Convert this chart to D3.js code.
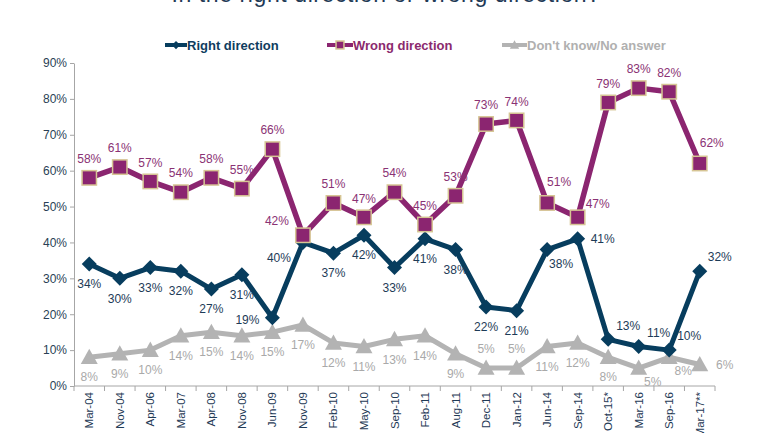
<!DOCTYPE html>
<html>
<head>
<meta charset="utf-8">
<script src="https://cdn.jsdelivr.net/npm/d3@7/dist/d3.min.js"></script>
<style>
  body { margin: 0; background: #fff; }
  svg { display: block; }
  text { font-family: "Liberation Sans", Arial, Helvetica, sans-serif; }
</style>
</head>
<body>
<svg id="chart" width="770" height="433"></svg>
<script>
const title = "In the right direction or wrong direction?";
const categories = ["Mar-04","Nov-04","Apr-06","Mar-07","Apr-08","Nov-08","Jun-09","Nov-09","Feb-10","May-10","Sep-10","Feb-11","Aug-11","Dec-11","Jan-12","Jun-14","Sep-14","Oct-15*","Mar-16","Sep-16","Mar-17**"];
const rightDirection = [34,30,33,32,27,31,19,40,37,42,33,41,38,22,21,38,41,13,11,10,32];
const wrongDirection = [58,61,57,54,58,55,66,42,51,47,54,45,53,73,74,51,47,79,83,82,62];
const dontKnow      = [8,9,10,14,15,14,15,17,12,11,13,14,9,5,5,11,12,8,5,8,6];
const yTicks = [0,10,20,30,40,50,60,70,80,90];
const seriesNames = ["Right direction","Wrong direction","Don't know/No answer"];

// label placement codes (annotation nudges, not data)
const rightLabelPos = ["b","b","b","b","b","b","l","bl","b","b","b","b","b","b","b","br","r","ar","ar","ar","ar"];
const wrongLabelPos = ["a","a","a","a","a","a","a","al","a","a","a","a","a","a","a","ar2","ar","a","a","a","ar2"];
const dkLabelPos    = ["b","b","b","b","b","b","b","b","b","b","b","b","b","a","a","b","b","b","br","br","r"];
const nudges = {
  a:[0,-19], b:[0,20], l:[-25,2], r:[25,0], bl:[-24,15], al:[-26,-14],
  ar:[20,-14], ar2:[12,-21], br:[14,14]
};

const svg = d3.select("#chart");
const x = d3.scalePoint().domain(categories).range([74,715]).padding(0.5);
const y = d3.scaleLinear().domain([0,90]).range([386,63]);
const step = x.step();

// title (mostly cropped at top)
svg.append("text").attr("x",386).attr("y",2).attr("text-anchor","middle")
  .attr("font-size",23).attr("fill","#1f3a56").attr("letter-spacing","0.6px").text(title);

// axes
const yAxis = svg.append("g").attr("transform","translate(74,0)")
  .call(d3.axisLeft(y).tickValues(yTicks).tickSize(4).tickSizeOuter(0).tickFormat(d=>d+"%"));
yAxis.select(".domain").attr("stroke","#a6a6a6");
yAxis.selectAll(".tick line").attr("stroke","#a6a6a6");
yAxis.selectAll(".tick text").attr("font-size",12).attr("fill","#2a3f55").attr("x",-7)
  .style("font-family","Liberation Sans, Arial, sans-serif");

const xg = svg.append("g").attr("transform","translate(0,386)");
xg.append("line").attr("x1",74).attr("x2",715).attr("stroke","#a6a6a6");
xg.selectAll("line.tk").data(d3.range(categories.length+1)).join("line").attr("class","tk")
  .attr("x1",i=>74+i*step).attr("x2",i=>74+i*step).attr("y1",0).attr("y2",5).attr("stroke","#a6a6a6");
xg.selectAll("text").data(categories).join("text")
  .attr("transform",d=>`translate(${x(d)+4},6) rotate(-90)`)
  .attr("text-anchor","end").attr("font-size",11.5).attr("fill","#1f3a56").text(d=>d);

const line = d3.line().x((d,i)=>x(categories[i])).y(d=>y(d));

const series = [
  {name:seriesNames[2], values:dontKnow, color:"#b3b3b3", lw:5, labelColor:"#a9a9a9", pos:dkLabelPos, shape:"tri"},
  {name:seriesNames[0], values:rightDirection, color:"#073d5e", lw:5, labelColor:"#1d3b57", pos:rightLabelPos, shape:"dia"},
  {name:seriesNames[1], values:wrongDirection, color:"#8b2570", lw:5.5, labelColor:"#8a3274", pos:wrongLabelPos, shape:"sq"}
];

function marker(g, s, cx, cy, scale) {
  scale = scale || 1;
  if (s.shape==="sq") {
    const h=7.2*scale;
    g.append("rect").attr("x",cx-h).attr("y",cy-h).attr("width",2*h).attr("height",2*h)
      .attr("fill",s.color).attr("stroke","#d6c594").attr("stroke-width",1.5);
  } else if (s.shape==="dia") {
    const h=7.5*scale;
    g.append("path").attr("d",`M${cx},${cy-h}L${cx+h},${cy}L${cx},${cy+h}L${cx-h},${cy}Z`).attr("fill",s.color);
  } else {
    const h=8.5*scale;
    g.append("path").attr("d",`M${cx},${cy-h}L${cx+h},${cy+h*0.8}L${cx-h},${cy+h*0.8}Z`).attr("fill",s.color);
  }
}

series.forEach(s=>{
  const g = svg.append("g");
  g.append("path").datum(s.values).attr("d",line).attr("fill","none")
    .attr("stroke",s.color).attr("stroke-width",s.lw).attr("stroke-linejoin","round");
  s.values.forEach((v,i)=>marker(g,s,x(categories[i]),y(v)));
});
series.forEach(s=>{
  const g = svg.append("g");
  s.values.forEach((v,i)=>{
    const n = nudges[s.pos[i]];
    g.append("text").attr("x",x(categories[i])+n[0]).attr("y",y(v)+n[1])
      .attr("dy","0.35em").attr("text-anchor","middle").attr("font-size",12)
      .attr("fill",s.labelColor).text(v+"%");
  });
});

// legend
const legend = [
  {s:series[1], x:165, tx:187, color:"#0f3d5e"},
  {s:series[2], x:327, tx:353, color:"#8b2a6e"},
  {s:series[0], x:502, tx:527, color:"#b0b0b0"}
];
legend.forEach(l=>{
  const g = svg.append("g");
  g.append("line").attr("x1",l.x).attr("x2",l.tx).attr("y1",45).attr("y2",45)
    .attr("stroke",l.s.color).attr("stroke-width",4);
  marker(g,l.s,(l.x+l.tx)/2,45,0.55);
  g.append("text").attr("x",l.tx).attr("y",45).attr("dy","0.35em").attr("font-size",13)
    .attr("font-weight","bold").attr("fill",l.color)
    .style("font-family","'Liberation Sans Narrow', 'Arial Narrow', 'Liberation Sans', sans-serif")
    .text(l.s.name);
});
</script>
</body>
</html>
